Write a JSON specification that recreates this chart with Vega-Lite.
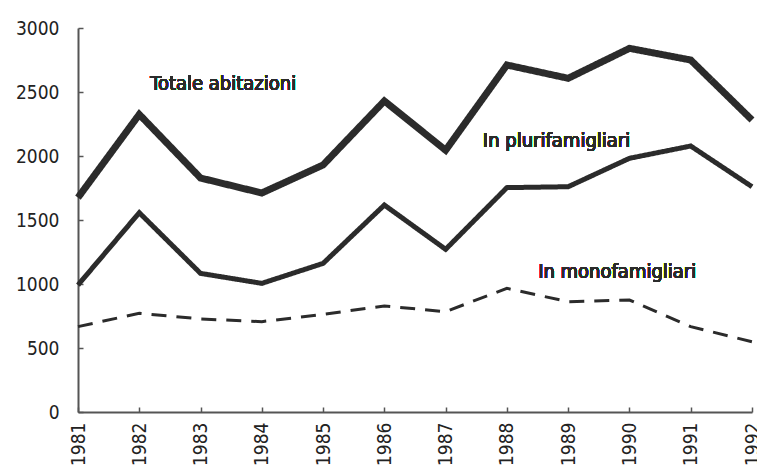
{
  "$schema": "https://vega.github.io/schema/vega-lite/v6.json",
  "width": 674,
  "height": 384,
  "autosize": "none",
  "padding": {"left": 78, "top": 28, "right": 5, "bottom": 58},
  "background": "white",
  "config": {
    "view": {"stroke": null},
    "font": "DejaVu Sans Condensed",
    "axis": {"grid": false, "domainColor": "#555", "domainWidth": 2, "tickColor": "#555", "tickWidth": 1.5, "labelFont": "DejaVu Sans Condensed", "labelColor": "#222", "labelFontSize": 19, "title": null}
  },
  "data": {"values": [
    {"anno": 1981, "serie": "Totale", "valore": 1675},
    {"anno": 1982, "serie": "Totale", "valore": 2325},
    {"anno": 1983, "serie": "Totale", "valore": 1828},
    {"anno": 1984, "serie": "Totale", "valore": 1711},
    {"anno": 1985, "serie": "Totale", "valore": 1930},
    {"anno": 1986, "serie": "Totale", "valore": 2430},
    {"anno": 1987, "serie": "Totale", "valore": 2045},
    {"anno": 1988, "serie": "Totale", "valore": 2711},
    {"anno": 1989, "serie": "Totale", "valore": 2607},
    {"anno": 1990, "serie": "Totale", "valore": 2841},
    {"anno": 1991, "serie": "Totale", "valore": 2750},
    {"anno": 1992, "serie": "Totale", "valore": 2281},
    {"anno": 1981, "serie": "Plurifamigliari", "valore": 992},
    {"anno": 1982, "serie": "Plurifamigliari", "valore": 1557},
    {"anno": 1983, "serie": "Plurifamigliari", "valore": 1083},
    {"anno": 1984, "serie": "Plurifamigliari", "valore": 1005},
    {"anno": 1985, "serie": "Plurifamigliari", "valore": 1161},
    {"anno": 1986, "serie": "Plurifamigliari", "valore": 1617},
    {"anno": 1987, "serie": "Plurifamigliari", "valore": 1271},
    {"anno": 1988, "serie": "Plurifamigliari", "valore": 1753},
    {"anno": 1989, "serie": "Plurifamigliari", "valore": 1760},
    {"anno": 1990, "serie": "Plurifamigliari", "valore": 1982},
    {"anno": 1991, "serie": "Plurifamigliari", "valore": 2078},
    {"anno": 1992, "serie": "Plurifamigliari", "valore": 1760},
    {"anno": 1981, "serie": "Monofamigliari", "valore": 667},
    {"anno": 1982, "serie": "Monofamigliari", "valore": 771},
    {"anno": 1983, "serie": "Monofamigliari", "valore": 727},
    {"anno": 1984, "serie": "Monofamigliari", "valore": 706},
    {"anno": 1985, "serie": "Monofamigliari", "valore": 763},
    {"anno": 1986, "serie": "Monofamigliari", "valore": 828},
    {"anno": 1987, "serie": "Monofamigliari", "valore": 784},
    {"anno": 1988, "serie": "Monofamigliari", "valore": 966},
    {"anno": 1989, "serie": "Monofamigliari", "valore": 862},
    {"anno": 1990, "serie": "Monofamigliari", "valore": 875},
    {"anno": 1991, "serie": "Monofamigliari", "valore": 667},
    {"anno": 1992, "serie": "Monofamigliari", "valore": 549}
  ]},
  "encoding": {
    "x": {"field": "anno", "type": "quantitative",
      "scale": {"domain": [1981, 1992], "nice": false, "zero": false},
      "axis": {"values": [1981,1982,1983,1984,1985,1986,1987,1988,1989,1990,1991,1992], "format": "d", "labelAngle": -90, "labelAlign": "right", "labelBaseline": "middle", "tickSize": -5, "labelPadding": 15, "labelFlush": false, "labelOverlap": false}},
    "y": {"field": "valore", "type": "quantitative",
      "scale": {"domain": [0, 3000], "nice": false},
      "axis": {"values": [0,500,1000,1500,2000,2500,3000], "format": "d", "tickSize": -5, "labelPadding": 24, "labelFlush": false, "labelOverlap": false}}
  },
  "layer": [
    {
      "mark": {"type": "line", "color": "#2b2b2b", "strokeJoin": "miter", "strokeCap": "butt"},
      "encoding": {
        "detail": {"field": "serie"},
        "strokeWidth": {"field": "serie", "type": "nominal", "scale": {"domain": ["Totale", "Plurifamigliari", "Monofamigliari"], "range": [7, 3, 3]}, "legend": null},
        "strokeDash": {"field": "serie", "type": "nominal", "scale": {"domain": ["Totale", "Plurifamigliari", "Monofamigliari"], "range": [[1, 0], [1, 0], [15, 10]]}, "legend": null}
      }
    },
    {
      "mark": {"type": "text", "fontSize": 20, "font": "DejaVu Sans Condensed", "color": "#2b2b2b", "align": "center", "baseline": "alphabetic", "text": "Totale abitazioni"},
      "encoding": {"x": {"datum": 1983.37}, "y": {"datum": 2516}}
    },
    {
      "mark": {"type": "text", "fontSize": 20, "font": "DejaVu Sans Condensed", "color": "#2b2b2b", "align": "center", "baseline": "alphabetic", "text": "In plurifamigliari"},
      "encoding": {"x": {"datum": 1988.81}, "y": {"datum": 2073}}
    },
    {
      "mark": {"type": "text", "fontSize": 20, "font": "DejaVu Sans Condensed", "color": "#2b2b2b", "align": "center", "baseline": "alphabetic", "text": "In monofamigliari"},
      "encoding": {"x": {"datum": 1989.8}, "y": {"datum": 1044}}
    }
  ]
}
